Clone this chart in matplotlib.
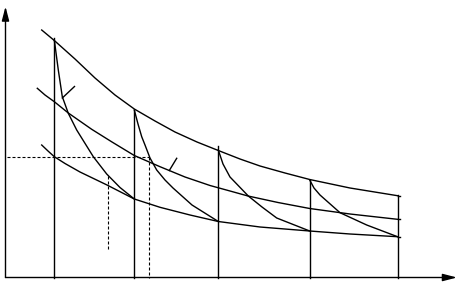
import matplotlib
matplotlib.use("Agg")
import matplotlib.pyplot as plt

# ---- data (diagram units: origin at axis corner, y upward) ----
dose_x = [48.8, 128.8, 212.8, 304.2, 392.0]
dose_top = [239.5, 167.5, 131.5, 98.0, 82.5]

upper_x = [36.2, 48.8, 69.5, 89.5, 109.5, 128.8, 149.5, 169.5, 191.5, 212.8, 234.5, 254.5, 279.5, 304.2, 344.5, 392.0]
upper_y = [247.5, 237.0, 218.5, 199.5, 182.5, 168.5, 156.5, 145.5, 135.5, 127.0, 118.5, 111.5, 104.5, 98.0, 89.5, 81.8]

middle_x = [31.8, 39.5, 48.8, 62.8, 86.2, 106.5, 128.8, 154.5, 179.5, 204.5, 224.5, 242.5, 272.5, 304.2, 344.5, 392.0]
middle_y = [189.2, 182.5, 175.8, 164.5, 148.2, 135.5, 122.0, 110.8, 100.5, 92.0, 86.5, 81.5, 75.0, 69.0, 63.5, 58.2]

lower_x = [36.2, 42.5, 48.8, 59.5, 74.5, 101.5, 128.8, 154.5, 184.5, 212.8, 254.5, 304.2, 344.5, 392.0]
lower_y = [132.5, 126.5, 120.8, 114.0, 105.5, 92.5, 78.5, 70.2, 62.5, 56.0, 50.5, 46.5, 43.5, 40.8]

decay1_x = [48.8, 50.8, 52.8, 56.8, 62.8, 71.2, 87.8, 101.2, 114.5, 128.8]
decay1_y = [237.5, 222.5, 207.5, 180.8, 164.2, 147.5, 120.8, 103.5, 90.0, 78.5]

decay2_x = [128.8, 132.5, 136.2, 139.5, 144.5, 151.2, 159.5, 167.5, 186.5, 212.8]
decay2_y = [167.5, 153.5, 140.8, 132.5, 119.5, 107.5, 97.5, 89.5, 72.5, 56.0]

decay3_x = [212.8, 217.5, 224.5, 242.8, 256.5, 271.2, 304.2]
decay3_y = [127.5, 113.5, 100.5, 81.5, 70.5, 59.5, 46.5]

decay4_x = [304.2, 308.5, 314.5, 334.5, 361.2, 392.0]
decay4_y = [97.5, 89.5, 82.5, 64.8, 52.5, 40.8]

level_y = 120.2
level_x_end = 143.8
level_x_start = 1.8
mid_dash_x = 102.2
mid_dash_y = [101.5, 28.5]

tick1_x = [56.8, 69.0]
tick1_y = [179.5, 191.0]
tick2_x = [163.8, 171.2]
tick2_y = [107.0, 119.2]

end_ticks_y = [81.8, 58.2, 40.8]

x_axis_end = 451.5
y_axis_end = 271.0

# ---- drawing ----
fig = plt.figure(figsize=(4.59, 2.83), dpi=100)
ax = fig.add_axes([0, 0, 1, 1])
ax.set_xlim(-5.5, 453.5)
ax.set_ylim(-5.5, 277.5)
ax.axis("off")

lw = 1.0
c = "black"

# axes with arrows
arrow = dict(arrowstyle="-|>,head_length=0.85,head_width=0.22", color=c, lw=lw,
             shrinkA=0, shrinkB=0)
ax.annotate("", xy=(x_axis_end, 0), xytext=(0, 0), arrowprops=arrow)
ax.annotate("", xy=(0, y_axis_end), xytext=(0, 0), arrowprops=arrow)

# dose verticals
for x, t in zip(dose_x, dose_top):
    ax.plot([x, x], [0, t], color=c, lw=lw)

# envelope curves
for xs, ys in [(upper_x, upper_y), (middle_x, middle_y), (lower_x, lower_y)]:
    ax.plot(xs, ys, color=c, lw=lw)

# decay curves
for xs, ys in [(decay1_x, decay1_y), (decay2_x, decay2_y),
               (decay3_x, decay3_y), (decay4_x, decay4_y)]:
    ax.plot(xs, ys, color=c, lw=lw)

# dashed guides
dash = dict(color=c, lw=0.8, dashes=(2.7, 1.8))
ax.plot([level_x_start, level_x_end], [level_y, level_y], **dash)
ax.plot([level_x_end, level_x_end], [level_y, 0], **dash)
ax.plot([mid_dash_x, mid_dash_x], mid_dash_y, **dash)

# small label ticks
ax.plot(tick1_x, tick1_y, color=c, lw=lw)
ax.plot(tick2_x, tick2_y, color=c, lw=lw)

# end ticks at last vertical
for y in end_ticks_y:
    ax.plot([dose_x[-1], dose_x[-1] + 2.5], [y, y], color=c, lw=lw)

fig.savefig("out.png", dpi=100)
